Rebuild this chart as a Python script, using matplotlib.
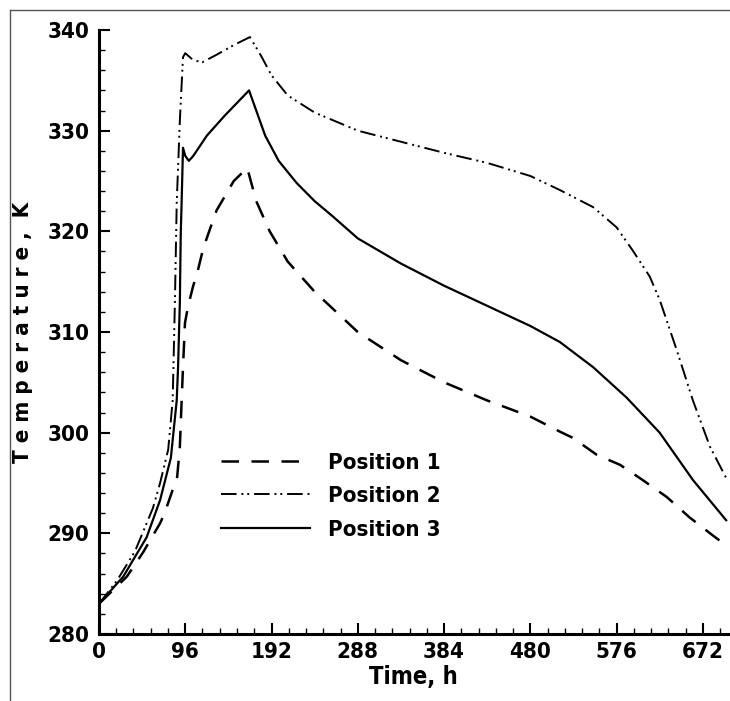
import matplotlib
matplotlib.use('Agg')
import matplotlib.pyplot as plt
from matplotlib.lines import Line2D

plt.rcParams['font.family'] = ['DejaVu Sans']
plt.rcParams['font.stretch'] = 'condensed'
plt.rcParams['font.weight'] = 'bold'

# Position 1 (dashed)
t1 = [0, 31, 49, 68, 73, 87, 90, 92, 93.5, 95.7, 99, 104.6, 110, 116, 123, 131, 150, 165,
      175, 190, 210, 240, 288, 336, 384, 432, 480, 513, 527, 554, 580, 605, 632, 657, 683, 698]
T1 = [283, 285.7, 288.1, 291, 292, 295.6, 298.6, 303.2, 306.5, 310.9, 312.5, 314.5, 316.1, 318.3, 320.1, 322.1, 325, 326.3,
      323, 320, 317, 314, 310, 307.2, 305, 303.2, 301.6, 300.1, 299.5, 297.8, 296.8, 295.3, 293.6, 291.6, 289.8, 288.8]

# Position 2 (dash-dot-dot)
t2 = [0, 20, 40, 60, 68, 77, 82, 84.5, 86.5, 90, 93.5, 96, 105, 115, 130, 150, 168,
      180, 192, 210, 240, 288, 336, 384, 432, 480, 513, 550, 576, 594, 613, 624, 643, 661, 680, 698]
T2 = [283, 285.3, 288.2, 292.5, 295, 298.3, 303.2, 313, 322.8, 331, 337.3, 337.7, 337, 336.8, 337.5, 338.5, 339.3,
      337.5, 335.5, 333.5, 331.8, 330, 328.9, 327.8, 326.8, 325.5, 324.1, 322.4, 320.4, 318.1, 315.5, 313.2, 308.2, 303.2, 298.6, 295.5]

# Position 3 (solid)
t3 = [0, 27, 53, 68, 80, 86.5, 88, 90, 91, 92, 93.5, 96, 100, 105, 120, 140, 167,
      175, 185, 200, 220, 240, 260, 288, 336, 384, 432, 480, 513, 550, 587, 624, 661, 698]
T3 = [283, 285.7, 289.6, 293.3, 297.5, 303.2, 306.5, 313, 319.8, 323, 328.3, 327.5, 327, 327.5, 329.5, 331.5, 334,
      332, 329.5, 327, 324.8, 323, 321.5, 319.3, 316.8, 314.6, 312.6, 310.6, 309, 306.5, 303.5, 300, 295.3, 291.3]

xticks = [0, 96, 192, 288, 384, 480, 576, 672]
yticks = [280, 290, 300, 310, 320, 330, 340]

fig = plt.figure(figsize=(7.3, 7.01), dpi=100)
ax = fig.add_axes([0.1356, 0.0956, 0.8616, 0.8616])

ax.plot(t1, T1, color='black', linewidth=1.8, dashes=(7, 5), label='Position 1')
ax.plot(t2, T2, color='black', linewidth=1.4, dashes=(8, 2.5, 1, 2, 1, 2.5), label='Position 2')
ax.plot(t3, T3, color='black', linewidth=1.6, label='Position 3')

ax.set_xlim(0, 700)
ax.set_ylim(280, 340)
ax.set_xticks(xticks)
ax.set_yticks(yticks)
ax.set_xticks([i * 19.2 for i in range(37) if i % 5 != 0], minor=True)
ax.set_yticks([280 + 2 * i for i in range(31) if i % 5 != 0], minor=True)

ax.tick_params(which='major', direction='in', length=8, width=1.5, labelsize=16, pad=6)
ax.tick_params(which='minor', direction='in', length=4, width=1.0)
ax.tick_params(axis='y', pad=7)

for s in ['top', 'right']:
    ax.spines[s].set_visible(False)
for s in ['left', 'bottom']:
    ax.spines[s].set_linewidth(2.2)

ax.set_xlabel('Time, h', fontsize=17, fontweight='bold', labelpad=2)
ax.set_ylabel('T e m p e r a t u r e ,  K', fontsize=16, fontweight='bold', labelpad=10)

ax.legend(loc='upper left', bbox_to_anchor=(0.162, 0.333), frameon=False,
          fontsize=16, handlelength=4.0, handletextpad=0.8, labelspacing=0.6)

# page border remnants
fig.add_artist(Line2D([10 / 730, 10 / 730], [0, 1 - 10 / 701], color='#555555', linewidth=1.0))
fig.add_artist(Line2D([10 / 730, 1], [1 - 10 / 701, 1 - 10 / 701], color='#555555', linewidth=1.0))

fig.savefig('out.png', dpi=100)
